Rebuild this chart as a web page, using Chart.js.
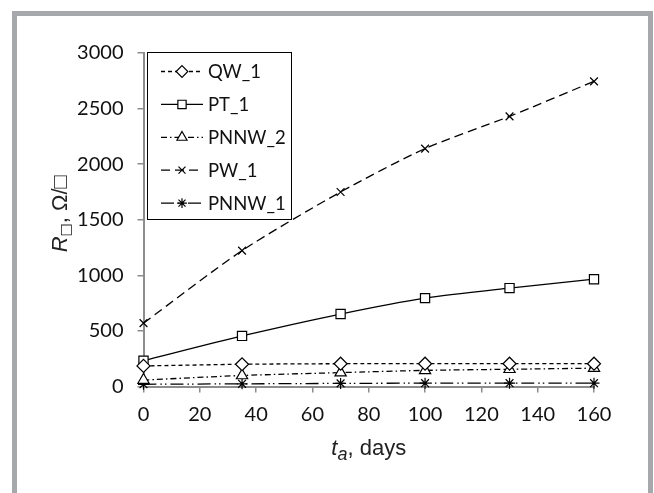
<!DOCTYPE html>
<html>
<head>
<meta charset="utf-8">
<script src="https://cdn.jsdelivr.net/npm/chart.js@4/dist/chart.umd.min.js"></script>
<style>
  html, body { margin: 0; padding: 0; background: #ffffff; }
  #wrap { position: relative; width: 654px; height: 493px; overflow: hidden; }
  #frame { position: absolute; left: 12px; top: 11px; width: 641px; height: 520px;
           box-sizing: border-box; border: 5px solid #a7a8ab; border-bottom: none; }
  #c { position: absolute; left: 0; top: 0; }
</style>
</head>
<body>
<div id="wrap">
  <div id="frame"></div>
  <canvas id="c" width="654" height="493"></canvas>
</div>
<script>
// ---- data ----
const days = [0, 35, 70, 100, 130, 160];
const seriesNames = ['QW_1', 'PT_1', 'PNNW_2', 'PW_1', 'PNNW_1'];
const qw1   = [185, 200, 205, 205, 205, 205];
const pt1   = [232, 455, 652, 795, 885, 965];
const pnnw2 = [58, 99, 125, 145, 155, 165];
const pw1   = [570, 1222, 1750, 2140, 2430, 2745];
const pnnw1 = [20, 24, 28, 30, 30, 30];
const xTicks = [0, 20, 40, 60, 80, 100, 120, 140, 160];
const yTicks = [0, 500, 1000, 1500, 2000, 2500, 3000];

const styles = [
  { dash: [4, 3],            point: 'rectRot',  r: 6.5 },
  { dash: [],                point: 'rect',     r: 6.5 },
  { dash: [6, 3, 1.5, 3],    point: 'triangle', r: 6.5 },
  { dash: [9, 5],            point: 'crossRot', r: 5.5 },
  { dash: [13, 4, 1.5, 3, 1.5, 4], point: 'star', r: 5.5 }
];
const allValues = [qw1, pt1, pnnw2, pw1, pnnw1];

const datasets = seriesNames.map((name, i) => ({
  label: name,
  data: days.map((d, j) => ({ x: d, y: allValues[i][j] })),
  borderColor: '#000',
  borderWidth: 1.3,
  borderDash: styles[i].dash,
  backgroundColor: '#fff',
  pointStyle: styles[i].point,
  pointRadius: styles[i].r,
  pointBorderWidth: 1.2,
  pointBorderColor: '#000',
  pointBackgroundColor: '#fff',
  tension: 0.25,
  clip: false
}));

const GRAY = '#8c8c8c';
const TICKFONT = { family: 'Lato', size: 20 };

function drawMarker(ctx, style, x, y, r) {
  ctx.save();
  ctx.setLineDash([]);
  ctx.lineWidth = 1.2;
  ctx.strokeStyle = '#000';
  ctx.fillStyle = '#fff';
  ctx.beginPath();
  if (style === 'rectRot') {
    ctx.moveTo(x, y - r); ctx.lineTo(x + r, y); ctx.lineTo(x, y + r); ctx.lineTo(x - r, y); ctx.closePath();
    ctx.fill(); ctx.stroke();
  } else if (style === 'rect') {
    const s = r * Math.SQRT1_2;
    ctx.rect(x - s, y - s, 2 * s, 2 * s); ctx.fill(); ctx.stroke();
  } else if (style === 'triangle') {
    ctx.moveTo(x, y - r); ctx.lineTo(x + r * 0.866, y + r * 0.5); ctx.lineTo(x - r * 0.866, y + r * 0.5); ctx.closePath();
    ctx.fill(); ctx.stroke();
  } else if (style === 'crossRot') {
    const s = r * Math.SQRT1_2;
    ctx.moveTo(x - s, y - s); ctx.lineTo(x + s, y + s); ctx.moveTo(x + s, y - s); ctx.lineTo(x - s, y + s); ctx.stroke();
  } else if (style === 'star') {
    const s = r * Math.SQRT1_2;
    ctx.moveTo(x - s, y - s); ctx.lineTo(x + s, y + s); ctx.moveTo(x + s, y - s); ctx.lineTo(x - s, y + s);
    ctx.moveTo(x, y - r); ctx.lineTo(x, y + r); ctx.moveTo(x - r, y); ctx.lineTo(x + r, y); ctx.stroke();
  }
  ctx.restore();
}

function drawParts(ctx, parts, startX, baseY) {
  let x = startX;
  for (const p of parts) {
    ctx.font = p.font;
    ctx.fillText(p.text, x, baseY + (p.dy || 0));
    x += ctx.measureText(p.text).width;
  }
}
function partsWidth(ctx, parts) {
  let w = 0;
  for (const p of parts) { ctx.font = p.font; w += ctx.measureText(p.text).width; }
  return w;
}

const decorPlugin = {
  id: 'decor',
  afterDraw(chart) {
    const ctx = chart.ctx;
    const area = chart.chartArea;
    // ---- legend ----
    const lx = 147.5, ly = 52.5, lw = 144, lh = 167;
    ctx.save();
    ctx.fillStyle = '#fff';
    ctx.fillRect(lx, ly, lw, lh);
    ctx.strokeStyle = '#000';
    ctx.lineWidth = 1;
    ctx.strokeRect(lx, ly, lw, lh);
    seriesNames.forEach((name, i) => {
      const y = 71.5 + i * 32.9;
      ctx.save();
      ctx.strokeStyle = '#000';
      ctx.lineWidth = 1.3;
      ctx.setLineDash(styles[i].dash);
      ctx.beginPath();
      ctx.moveTo(161, y); ctx.lineTo(203, y); ctx.stroke();
      ctx.restore();
      drawMarker(ctx, styles[i].point, 182, y, styles[i].r * 0.9);
      ctx.fillStyle = '#111';
      ctx.font = '18.5px Lato';
      ctx.textBaseline = 'middle';
      ctx.textAlign = 'left';
      ctx.fillText(name, 208, y + 1);
    });
    ctx.restore();

    // ---- axis titles ----
    ctx.save();
    ctx.fillStyle = '#222';
    ctx.textBaseline = 'alphabetic';
    ctx.textAlign = 'left';
    const F = '"Liberation Sans", Arial, sans-serif';
    const xParts = [
      { text: 't', font: 'italic 22px ' + F },
      { text: 'a', font: 'italic 18px ' + F, dy: 5 },
      { text: ', days', font: '22px ' + F }
    ];
    const xc = (area.left + area.right) / 2;
    const xw = partsWidth(ctx, xParts);
    drawParts(ctx, xParts, xc - xw / 2, 455);

    const yParts = [
      { text: 'R', font: 'italic 22px ' + F },
      { text: '\u25A1', font: '14px "DejaVu Sans", ' + F, dy: 3 },
      { text: ', \u03A9/\u25A1', font: '22px ' + F }
    ];
    ctx.translate(67, (area.top + area.bottom) / 2 - 6);
    ctx.rotate(-Math.PI / 2);
    const yw = partsWidth(ctx, yParts);
    drawParts(ctx, yParts, -yw / 2, 0);
    ctx.restore();
  }
};

new Chart(document.getElementById('c'), {
  type: 'line',
  data: { datasets },
  plugins: [decorPlugin],
  options: {
    responsive: false,
    animation: false,
    events: [],
    layout: { padding: { left: 0, top: 53, right: 60, bottom: 46.5 } },
    plugins: { legend: { display: false }, tooltip: { enabled: false } },
    scales: {
      x: {
        type: 'linear', min: 0, max: 160,
        afterBuildTicks: (s) => { s.ticks = xTicks.map(v => ({ value: v })); },
        afterFit: (s) => { s.height = 60; },
        grid: { drawOnChartArea: false, drawTicks: true, tickLength: 6, color: GRAY, lineWidth: 1.5 },
        border: { display: true, color: GRAY, width: 2 },
        ticks: { font: TICKFONT, color: '#111', padding: 10, maxRotation: 0, callback: (v) => String(v) }
      },
      y: {
        type: 'linear', min: 0, max: 3000,
        afterBuildTicks: (s) => { s.ticks = yTicks.map(v => ({ value: v })); },
        afterFit: (s) => { s.width = 143.5; },
        grid: { drawOnChartArea: false, drawTicks: true, tickLength: 6, color: GRAY, lineWidth: 1.5 },
        border: { display: true, color: GRAY, width: 2 },
        ticks: { font: TICKFONT, color: '#111', padding: 14, callback: (v) => String(v) }
      }
    }
  }
});
</script>
</body>
</html>
